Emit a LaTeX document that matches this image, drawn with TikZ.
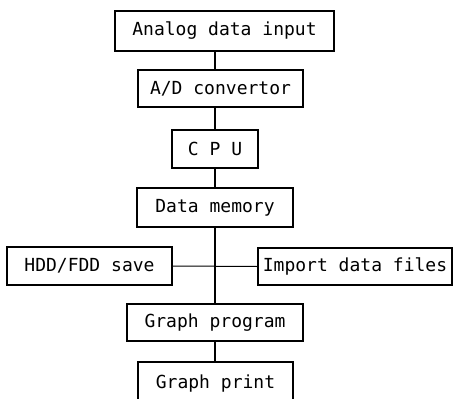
\documentclass[tikz,border=0pt]{standalone}
\usepackage{fontspec}
\setmonofont{DejaVu Sans Mono}
\begin{document}
\begin{tikzpicture}[x=1pt,y=-1pt,
  blk/.style={draw,line width=1.7pt,inner sep=0pt,font=\ttfamily\fontsize{18}{21}\selectfont,anchor=center},
  link/.style={line width=1.8pt},
  thin/.style={line width=1pt}]
\useasboundingbox (0,0) rectangle (454,398);
\clip (0,0) rectangle (454,398);
\fill[white] (0,0) rectangle (454,398);
\node[blk,minimum width=219pt,minimum height=40pt] (ana) at (224.5,31) {Analog data input};
\node[blk,minimum width=165pt,minimum height=37pt] (ad) at (220.5,88.5) {A/D convertor};
\node[blk,minimum width=86pt,minimum height=38pt] (cpu) at (215,149) {C P U};
\node[blk,minimum width=156pt,minimum height=39pt] (mem) at (215,207.5) {Data memory};
\node[blk,minimum width=165pt,minimum height=38pt] (hdd) at (89.5,266) {HDD/FDD save};
\node[blk,minimum width=194pt,minimum height=37pt] (imp) at (355,266.5) {Import data files};
\node[blk,minimum width=176pt,minimum height=37pt] (gp) at (215,322.5) {Graph program};
\node[blk,minimum width=155pt,minimum height=44pt] (gpr) at (215.5,384) {Graph print};
\coordinate (axis) at (215,0);
\draw[link] (ana.south -| axis) -- (ad.north -| axis);
\draw[link] (ad.south -| axis) -- (cpu.north -| axis);
\draw[link] (cpu.south) -- (mem.north);
\draw[link] (mem.south) -- (gp.north);
\draw[link] (gp.south -| axis) -- (gpr.north -| axis);
\draw[thin] (hdd.east) -- (imp.west);
\end{tikzpicture}
\end{document}
